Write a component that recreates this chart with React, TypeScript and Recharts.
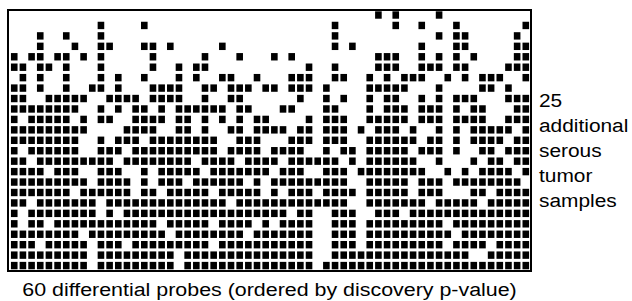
import { ReferenceArea, Scatter, ScatterChart, XAxis, YAxis } from "recharts"

// one string per tumor sample (top to bottom), one char per probe: # = black cell
const upperSamples = [
  ".......... .......... .......... .......... ..#.#....# ..........",
  ".......... #....#.... .......... .......#.. ....#..#.. .#.......#",
  "...#..#... #......... .......... .......#.. .........# .##.....#.",
  "...#...#.. ##...##.#. ....#..... .......#.# .......#.. .##.....##",
  "#.##.##.#. #.....#... ..#...#... #.#....... ..###..#.# .#.#....##",
  "##.##.#... #.....#..# .##....... ....#..#.. ..###..### .##....###",
  ".#.#..#... #.#..#...# .#..##..#. ..###..##. .#.#.###.. #.#.###..#",
  "##.#..#..# #.#...#### ..##.###.# #.###.#... .#####...# ....##.#..",
  "##..#####. .####.#### ..#..##... ...#..#.#. .#.##..#.# .###...###",
  "########.. #.#.##.#.# #####.##.. .##...##.. .#.###.### .#.##...##",
  "#.#####.#. ##..####.# #.#.#.#.## ....#.###. .#####.### .####..###",
  "#########. ...####..# #.#..##.## ##.##.###. #.###.#..# .#.#####.#",
]

const lowerSamples = [
  "########.. #.###.#### ####..###. ..###.###. .######.## .#.####.##",
  "#.######.. ###.###### ####.####. ####..#.## .#####.### .#..##.###",
  "##.####### ##.####### #.####.### #.######.# .######..# ...#.##.##",
  "####.###.. ###..#.### ##.####### .###..###. ########.. #.#.####.#",
  "#########. ####.#.### .######.#. #########. .#####.### .########.",
  "#######.## ####.##.## ###.#####. #.###.#### .#####.### ...##.####",
  "##.####### .######### #####.#### #########. .#######.# ####.#####",
  "#.######## .#.####### ########## ##.##..### ..###.#### ##########",
  "#.##.##### #######.## ###.####.# .####..### .######### .#########",
  "########.# ########.# #######.## #####..### .######### #.########",
  "###.#####. ###.###### ###.###### #####..### .######### .####.####",
  "#########. #########. ########## #####..### ########## ###..#####",
  "#########. #########. ########## #####.#### ########## ##########",
]

const sideLabel = ["25", "additional", "serous", "tumor", "samples"]
const bottomLabel = "60 differential probes (ordered by discovery p-value)"

const xDomain: [number, number] = [-0.72, 59.6]
const yDomain: [number, number] = [-0.48, 24.52]

const cells = [...upperSamples, ...lowerSamples].flatMap((row, sample) =>
  row
    .replace(/ /g, "")
    .split("")
    .map((c, probe) => (c === "#" ? { probe, sample } : null))
    .filter((d) => d !== null)
)

const Cell = ({ cx, cy }: any) => (
  <rect x={cx - 3.3} y={cy - 3.7} width={6.6} height={7.4} fill="#000" />
)

export default function App() {
  return (
    <div style={{ width: 632, height: 301 }}>
      <style>{"body{margin:0}"}</style>
      <ScatterChart
        width={632}
        height={301}
        margin={{ top: 10, left: 8, right: 101, bottom: 30 }}
      >
        <XAxis
          type="number"
          dataKey="probe"
          domain={xDomain}
          allowDataOverflow
          hide
        />
        <YAxis
          type="number"
          dataKey="sample"
          domain={yDomain}
          allowDataOverflow
          reversed
          hide
        />
        <Scatter data={cells} shape={<Cell />} isAnimationActive={false} />
        <ReferenceArea
          x1={xDomain[0]}
          x2={xDomain[1]}
          y1={yDomain[0]}
          y2={yDomain[1]}
          fill="none"
          stroke="#000"
          strokeWidth={2}
          fillOpacity={0}
        />
        <g
          fontFamily="Liberation Sans, Arial, sans-serif"
          fontSize={18}
          fill="#000"
        >
          {sideLabel.map((t, i) => (
            <text
              key={t}
              x={0}
              y={0}
              transform={`translate(539, ${106.5 + i * 25}) scale(1.16, 1)`}
            >
              {t}
            </text>
          ))}
          <text
            x={0}
            y={0}
            textAnchor="middle"
            transform="translate(269.5, 295.5) scale(1.19, 1)"
          >
            {bottomLabel}
          </text>
        </g>
      </ScatterChart>
    </div>
  )
}
